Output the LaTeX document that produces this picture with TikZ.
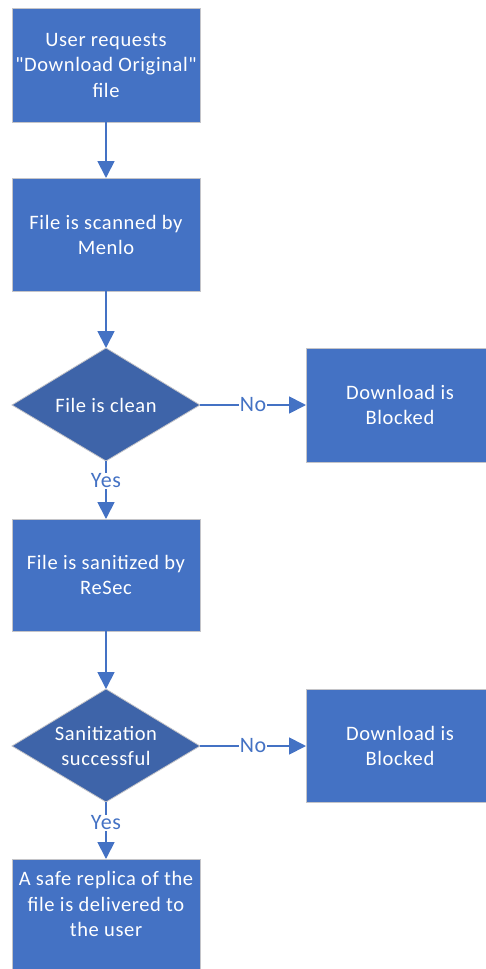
\documentclass[tikz,border=0pt]{standalone}
\usepackage{fontspec}
\setmainfont[LetterSpace=3,Ligatures=TeXOff]{Carlito}
\usetikzlibrary{arrows.meta,shapes.geometric}
\definecolor{boxblue}{HTML}{4472C4}
\definecolor{diablue}{HTML}{3E64A9}
\definecolor{edgegray}{HTML}{C4C4C8}
\tikzset{
  x=1pt,y=-1pt,
  txt/.style={font=\fontsize{20.5}{25.5}\selectfont,text=white,align=center},
  stepbox/.style={draw=edgegray,line width=0.8pt,fill=boxblue},
  flow/.style={draw=boxblue,line width=1.8pt,-{Triangle[length=17pt,width=17pt]}},
  lbl/.style={font=\fontsize{22}{24}\selectfont,text=boxblue,fill=white,inner sep=1pt}
}
\begin{document}
\begin{tikzpicture}
\useasboundingbox (0,0) rectangle (485,969);
% boxes
\draw[stepbox] (12,8) rectangle (200,122);
\node[txt] (b1) at (106,65) {User requests\\"Download Original"\\file};
\coordinate (b1s) at (106,122);
\draw[stepbox] (12,178) rectangle (200,291);
\node[txt] (b2) at (106,235) {File is scanned by\\Menlo};
\coordinate (b2n) at (106,178);
\coordinate (b2s) at (106,291);
% diamond 1
\draw[draw=edgegray,line width=0.8pt,fill=diablue] (106,348) -- (200,405) -- (106,461) -- (12,405) -- cycle;
\node[txt] (d1) at (106,405) {File is clean};
\coordinate (d1n) at (106,348);
\coordinate (d1e) at (200,405);
\coordinate (d1s) at (106,461);
\draw[stepbox] (306,348) rectangle (487,462);
\node[txt] (k1) at (400,405) {Download is\\Blocked};
\coordinate (k1w) at (306,405);
\draw[stepbox] (12,519) rectangle (200,631);
\node[txt] (b3) at (106,575) {File is sanitized by\\ReSec};
\coordinate (b3n) at (106,519);
\coordinate (b3s) at (106,631);
% diamond 2
\draw[draw=edgegray,line width=0.8pt,fill=diablue] (106,689) -- (200,746) -- (106,802) -- (12,746) -- cycle;
\node[txt] (d2) at (106,746) {Sanitization\\successful};
\coordinate (d2n) at (106,689);
\coordinate (d2e) at (200,746);
\coordinate (d2s) at (106,802);
\draw[stepbox] (306,689) rectangle (487,802);
\node[txt] (k2) at (400,746) {Download is\\Blocked};
\coordinate (k2w) at (306,746);
\draw[stepbox] (12,859) rectangle (200,975);
\node[txt] (b4) at (106,904) {A safe replica of the\\file is delivered to\\the user};
\coordinate (b4n) at (106,859);
% connectors
\draw[flow] (b1s) -- (b2n);
\draw[flow] (b2s) -- (d1n);
\draw[flow] (d1e) -- (k1w);
\node[lbl] (n1) at (253,405) {No};
\draw[flow] (d1s) -- (b3n);
\node[lbl] (y1) at (106,481) {Yes};
\draw[flow] (b3s) -- (d2n);
\draw[flow] (d2e) -- (k2w);
\node[lbl] (n2) at (253,746) {No};
\draw[flow] (d2s) -- (b4n);
\node[lbl] (y2) at (106,823) {Yes};
\end{tikzpicture}
\end{document}
